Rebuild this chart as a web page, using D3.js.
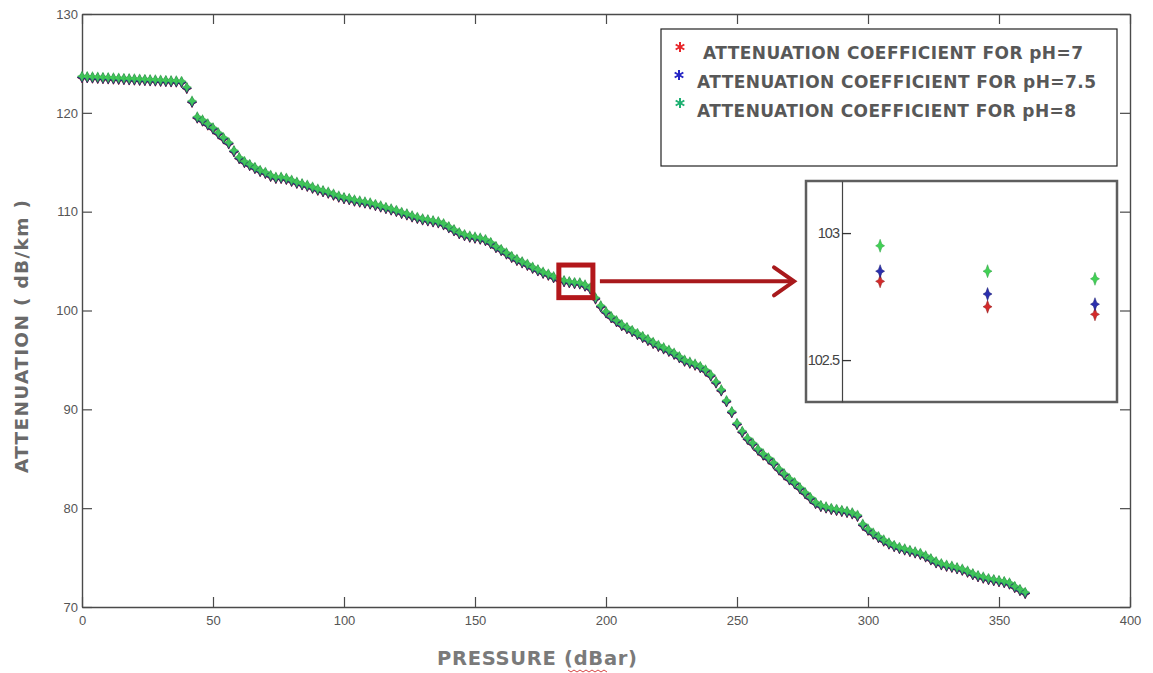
<!DOCTYPE html>
<html>
<head>
<meta charset="utf-8">
<script src="https://cdn.jsdelivr.net/npm/d3@7"></script>
<style>
  html, body { margin: 0; padding: 0; background: #ffffff; }
  svg { display: block; }
</style>
</head>
<body>
<svg id="chart" width="1153" height="673"></svg>
<script>
// ---------------- DATA ----------------
const pressure = [
  0,2,4,6,8,10,12,14,16,18,20,22,24,26,28,30,32,34,36,38,
  40,42,44,46,48,50,52,54,56,58,60,62,64,66,68,70,72,74,76,78,
  80,82,84,86,88,90,92,94,96,98,100,102,104,106,108,110,112,114,116,118,
  120,122,124,126,128,130,132,134,136,138,140,142,144,146,148,150,152,154,156,158,
  160,162,164,166,168,170,172,174,176,178,180,182,184,186,188,190,192,194,196,198,
  200,202,204,206,208,210,212,214,216,218,220,222,224,226,228,230,232,234,236,238,
  240,242,244,246,248,250,252,254,256,258,260,262,264,266,268,270,272,274,276,278,
  280,282,284,286,288,290,292,294,296,298,300,302,304,306,308,310,312,314,316,318,
  320,322,324,326,328,330,332,334,336,338,340,342,344,346,348,350,352,354,356,358,
  360
];

const attenPH8 = [
  123.70,123.68,123.65,123.62,123.60,123.57,123.55,123.52,123.50,123.47,
  123.45,123.42,123.40,123.37,123.35,123.32,123.30,123.27,123.25,123.20,
  122.60,121.20,119.60,119.30,118.90,118.50,118.00,117.50,117.00,116.20,
  115.50,115.10,114.80,114.50,114.20,114.00,113.70,113.50,113.50,113.40,
  113.20,113.00,112.85,112.70,112.50,112.30,112.15,112.00,111.80,111.60,
  111.45,111.35,111.20,111.10,111.00,110.90,110.75,110.60,110.45,110.30,
  110.15,109.95,109.80,109.60,109.45,109.30,109.20,109.10,109.00,108.80,
  108.50,108.20,107.90,107.70,107.55,107.45,107.35,107.20,106.90,106.50,
  106.20,105.85,105.50,105.20,104.95,104.70,104.40,104.15,103.90,103.70,
  103.45,103.20,103.05,102.95,102.85,102.82,102.60,102.30,101.30,100.50,
  99.90,99.40,99.00,98.60,98.30,98.00,97.70,97.40,97.10,96.80,
  96.50,96.25,96.00,95.70,95.35,95.00,94.80,94.60,94.35,94.00,
  93.50,92.80,92.00,90.90,89.80,88.60,87.80,87.10,86.60,86.00,
  85.50,85.10,84.60,84.00,83.50,83.00,82.60,82.10,81.60,81.10,
  80.60,80.30,80.15,80.00,79.90,79.80,79.70,79.55,79.30,78.40,
  77.90,77.50,77.15,76.80,76.50,76.25,76.05,75.90,75.75,75.60,
  75.45,75.20,74.90,74.60,74.40,74.25,74.15,74.00,73.85,73.65,
  73.40,73.20,73.05,72.90,72.80,72.70,72.60,72.45,72.10,71.80,
  71.50
];

const attenPH75 = [
  123.60,123.58,123.55,123.52,123.50,123.47,123.45,123.42,123.40,123.37,
  123.35,123.32,123.30,123.27,123.25,123.22,123.20,123.17,123.15,123.10,
  122.50,121.10,119.50,119.20,118.80,118.40,117.90,117.40,116.90,116.10,
  115.40,115.00,114.70,114.40,114.10,113.90,113.60,113.40,113.40,113.30,
  113.10,112.90,112.75,112.60,112.40,112.20,112.05,111.90,111.70,111.50,
  111.35,111.25,111.10,111.00,110.90,110.80,110.65,110.50,110.35,110.20,
  110.05,109.85,109.70,109.50,109.35,109.20,109.10,109.00,108.90,108.70,
  108.40,108.10,107.80,107.60,107.45,107.35,107.25,107.10,106.80,106.40,
  106.10,105.75,105.40,105.10,104.85,104.60,104.30,104.05,103.80,103.60,
  103.35,103.10,102.95,102.85,102.76,102.72,102.50,102.20,101.20,100.40,
  99.80,99.30,98.90,98.50,98.20,97.90,97.60,97.30,97.00,96.70,
  96.40,96.15,95.90,95.60,95.25,94.90,94.70,94.50,94.25,93.90,
  93.40,92.70,91.90,90.80,89.70,88.50,87.70,87.00,86.50,85.90,
  85.40,85.00,84.50,83.90,83.40,82.90,82.50,82.00,81.50,81.00,
  80.50,80.20,80.05,79.90,79.80,79.70,79.60,79.45,79.20,78.30,
  77.80,77.40,77.05,76.70,76.40,76.15,75.95,75.80,75.65,75.50,
  75.35,75.10,74.80,74.50,74.30,74.15,74.05,73.90,73.75,73.55,
  73.30,73.10,72.95,72.80,72.70,72.60,72.50,72.35,72.00,71.70,
  71.40
];

const attenPH7 = [
  123.56,123.54,123.51,123.48,123.46,123.43,123.41,123.38,123.36,123.33,
  123.31,123.28,123.26,123.23,123.21,123.18,123.16,123.13,123.11,123.06,
  122.46,121.06,119.46,119.16,118.76,118.36,117.86,117.36,116.86,116.06,
  115.36,114.96,114.66,114.36,114.06,113.86,113.56,113.36,113.36,113.26,
  113.06,112.86,112.71,112.56,112.36,112.16,112.01,111.86,111.66,111.46,
  111.31,111.21,111.06,110.96,110.86,110.76,110.61,110.46,110.31,110.16,
  110.01,109.81,109.66,109.46,109.31,109.16,109.06,108.96,108.86,108.66,
  108.36,108.06,107.76,107.56,107.41,107.31,107.21,107.06,106.76,106.36,
  106.06,105.71,105.36,105.06,104.81,104.56,104.26,104.01,103.76,103.56,
  103.31,103.06,102.91,102.81,102.71,102.68,102.46,102.16,101.16,100.36,
  99.76,99.26,98.86,98.46,98.16,97.86,97.56,97.26,96.96,96.66,
  96.36,96.11,95.86,95.56,95.21,94.86,94.66,94.46,94.21,93.86,
  93.36,92.66,91.86,90.76,89.66,88.46,87.66,86.96,86.46,85.86,
  85.36,84.96,84.46,83.86,83.36,82.86,82.46,81.96,81.46,80.96,
  80.46,80.16,80.01,79.86,79.76,79.66,79.56,79.41,79.16,78.26,
  77.76,77.36,77.01,76.66,76.36,76.11,75.91,75.76,75.61,75.46,
  75.31,75.06,74.76,74.46,74.26,74.11,74.01,73.86,73.71,73.51,
  73.26,73.06,72.91,72.76,72.66,72.56,72.46,72.31,71.96,71.66,
  71.36
];

const seriesNames = [
  "ATTENUATION COEFFICIENT FOR pH=7",
  "ATTENUATION COEFFICIENT FOR pH=7.5",
  "ATTENUATION COEFFICIENT FOR pH=8"
];
const xTicks = [0, 50, 100, 150, 200, 250, 300, 350, 400];
const yTicks = [70, 80, 90, 100, 110, 120, 130];
const insetYTicks = [102.5, 103];
const xDomain = [0, 400];
const yDomain = [70, 130];
const zoomPressure = [182, 195];          // red box on main chart
const zoomAtten = [101.3, 104.6];
const insetXDomain = [185.29, 190.41];    // inset view
const insetYDomain = [102.335, 103.205];
const xLabel = "PRESSURE (dBar)";
const yLabel = "ATTENUATION ( dB/km )";

// ---------------- STYLE / LAYOUT ----------------
const colors = ["#d42a2a", "#2b2fae", "#42d155"];
const strokeColors = ["#8a1a1a", "#1a1d70", "#2f9e45"];
const legendColors = ["#e8262a", "#2626c4", "#1fb072"];
const series = [attenPH7, attenPH75, attenPH8];
const plot = { left: 82, right: 1130, top: 14, bottom: 607 };
const insetBox = { left: 806, top: 181, right: 1117, bottom: 402, axisX: 842 };
const tickFont = "'Liberation Sans Narrow', 'Arial Narrow', 'Liberation Sans', sans-serif";
const boldFont = "'DejaVu Sans', Verdana, sans-serif";

const svg = d3.select("#chart");
svg.append("rect").attr("width", 1153).attr("height", 673).attr("fill", "#fff");

const x = d3.scaleLinear().domain(xDomain).range([plot.left, plot.right]);
const y = d3.scaleLinear().domain(yDomain).range([plot.bottom, plot.top]);

// sparkle-like marker (blurred MATLAB '*')
function sparkle(hw, hh) {
  return {
    draw(ctx, size) {
      const k = Math.sqrt(size) / 10;
      const w = hw * k, h = hh * k, t = 1.7 * k;
      ctx.moveTo(0, -h);
      ctx.lineTo(t, -t);
      ctx.lineTo(w, 0);
      ctx.lineTo(t, t);
      ctx.lineTo(0, h);
      ctx.lineTo(-t, t);
      ctx.lineTo(-w, 0);
      ctx.lineTo(-t, -t);
      ctx.closePath();
    }
  };
}

// ---------------- AXES ----------------
function styleAxis(g, showLabels) {
  g.select(".domain").attr("stroke", "#4a4a4a").attr("stroke-width", 1.4);
  g.selectAll(".tick line").attr("stroke", "#4a4a4a").attr("stroke-width", 1.2);
  g.selectAll(".tick text")
    .attr("fill", "#555")
    .style("font-family", tickFont)
    .style("font-size", "13px");
  if (!showLabels) g.selectAll(".tick text").remove();
}

svg.append("g").attr("transform", `translate(0,${plot.bottom})`)
  .call(d3.axisBottom(x).tickValues(xTicks).tickSize(-10).tickSizeOuter(0).tickPadding(9).tickFormat(d3.format("d")))
  .call(g => styleAxis(g, true));
svg.append("g").attr("transform", `translate(0,${plot.top})`)
  .call(d3.axisTop(x).tickValues(xTicks).tickSize(-10).tickSizeOuter(0))
  .call(g => styleAxis(g, false));
svg.append("g").attr("transform", `translate(${plot.left},0)`)
  .call(d3.axisLeft(y).tickValues(yTicks).tickSize(-10).tickSizeOuter(0).tickPadding(4).tickFormat(d3.format("d")))
  .call(g => styleAxis(g, true));
svg.append("g").attr("transform", `translate(${plot.right},0)`)
  .call(d3.axisRight(y).tickValues(yTicks).tickSize(-10).tickSizeOuter(0))
  .call(g => styleAxis(g, false));

// ---------------- DATA MARKS ----------------
const mainSym = d3.symbol().type(sparkle(4.6, 5.2)).size(100);
series.forEach((vals, si) => {
  svg.append("g")
    .selectAll("path")
    .data(pressure.map((p, i) => [p, vals[i]]))
    .join("path")
    .attr("transform", d => `translate(${x(d[0])},${y(d[1])})`)
    .attr("d", mainSym)
    .attr("fill", colors[si])
    .attr("stroke", strokeColors[si])
    .attr("stroke-width", si === 2 ? 0.4 : 0.7)
    .attr("opacity", si === 2 ? 0.92 : 1);
});

// ---------------- AXIS TITLES ----------------
svg.append("text")
  .attr("transform", `translate(28,336.5) rotate(-90)`)
  .attr("text-anchor", "middle")
  .attr("textLength", 273).attr("lengthAdjust", "spacing")
  .style("font-family", boldFont).style("font-weight", "bold").style("font-size", "18.5px")
  .attr("fill", "#6a6a6a")
  .text(yLabel);

svg.append("text")
  .attr("x", 437).attr("y", 665)
  .attr("textLength", 200).attr("lengthAdjust", "spacing")
  .style("font-family", boldFont).style("font-weight", "bold").style("font-size", "19.5px")
  .attr("fill", "#7a7a7a")
  .text(xLabel);
// spell-check squiggle under "dBar"
const sq = d3.path();
sq.moveTo(568, 670);
for (let i = 0; i < 13; i++) sq.lineTo(568 + 3 * (i + 1), i % 2 === 0 ? 672 : 670);
svg.append("path").attr("d", sq.toString()).attr("fill", "none").attr("stroke", "#d03030").attr("stroke-width", 0.9);

// ---------------- LEGEND ----------------
const legend = svg.append("g");
legend.append("rect")
  .attr("x", 661).attr("y", 29).attr("width", 456).attr("height", 137)
  .attr("fill", "#fff").attr("stroke", "#222").attr("stroke-width", 1.2);
const legendRows = [
  { ax: 680, ay: 47, tx: 703, ty: 59, len: 380 },
  { ax: 679, ay: 75, tx: 697, ty: 88, len: 399 },
  { ax: 680, ay: 103, tx: 697, ty: 117, len: 379 }
];
const astSym = d3.symbol().type(d3.symbolAsterisk).size(70);
legendRows.forEach((r, i) => {
  legend.append("path")
    .attr("transform", `translate(${r.ax},${r.ay})`)
    .attr("d", astSym)
    .attr("fill", "none").attr("stroke", legendColors[i]).attr("stroke-width", 2);
  legend.append("text")
    .attr("x", r.tx).attr("y", r.ty)
    .attr("textLength", r.len).attr("lengthAdjust", "spacing")
    .style("font-family", boldFont).style("font-weight", "bold").style("font-size", "17px")
    .attr("fill", "#585858")
    .text(seriesNames[i]);
});

// ---------------- ZOOM BOX + ARROW ----------------
const zx0 = x(zoomPressure[0]), zx1 = x(zoomPressure[1]);
const zy0 = y(zoomAtten[1]), zy1 = y(zoomAtten[0]);
svg.append("rect")
  .attr("x", zx0).attr("y", zy0).attr("width", zx1 - zx0).attr("height", zy1 - zy0)
  .attr("fill", "none").attr("stroke", "#b3171b").attr("stroke-width", 5);
const arrowY = (zy0 + zy1) / 2;
const arrowEnd = insetBox.left - 12;
svg.append("line")
  .attr("x1", zx1 + 7).attr("x2", arrowEnd).attr("y1", arrowY).attr("y2", arrowY)
  .attr("stroke", "#a8191c").attr("stroke-width", 4);
svg.append("path")
  .attr("d", `M${arrowEnd - 20},${arrowY - 14} L${arrowEnd},${arrowY} L${arrowEnd - 20},${arrowY + 14}`)
  .attr("fill", "none").attr("stroke", "#a8191c").attr("stroke-width", 4)
  .attr("stroke-linecap", "round").attr("stroke-linejoin", "miter");

// ---------------- INSET ----------------
const inset = svg.append("g");
inset.append("rect")
  .attr("x", insetBox.left).attr("y", insetBox.top)
  .attr("width", insetBox.right - insetBox.left).attr("height", insetBox.bottom - insetBox.top)
  .attr("fill", "#fff").attr("stroke", "#5e5e5e").attr("stroke-width", 2.5);
const ix = d3.scaleLinear().domain(insetXDomain).range([insetBox.axisX, insetBox.right]);
const iy = d3.scaleLinear().domain(insetYDomain).range([insetBox.bottom, insetBox.top]);
inset.append("g").attr("transform", `translate(${insetBox.axisX},0)`)
  .call(d3.axisLeft(iy).tickValues(insetYTicks).tickSize(-9).tickSizeOuter(0).tickPadding(3).tickFormat(d => String(d)))
  .call(g => {
    g.select(".domain").attr("stroke", "#444").attr("stroke-width", 1.2);
    g.selectAll(".tick line").attr("stroke", "#333").attr("stroke-width", 1.3);
    g.selectAll(".tick text").attr("fill", "#444")
      .style("font-family", tickFont).style("font-size", "14.5px").attr("letter-spacing", "-1");
  });
const insetSym = d3.symbol().type(sparkle(4.5, 6.5)).size(100);
series.forEach((vals, si) => {
  inset.append("g")
    .selectAll("path")
    .data(pressure.map((p, i) => [p, vals[i]]).filter(d => d[0] > insetXDomain[0] && d[0] < insetXDomain[1]))
    .join("path")
    .attr("transform", d => `translate(${ix(d[0])},${iy(d[1])})`)
    .attr("d", insetSym)
    .attr("fill", colors[si])
    .attr("stroke", strokeColors[si])
    .attr("stroke-width", 0.5);
});
</script>
</body>
</html>
